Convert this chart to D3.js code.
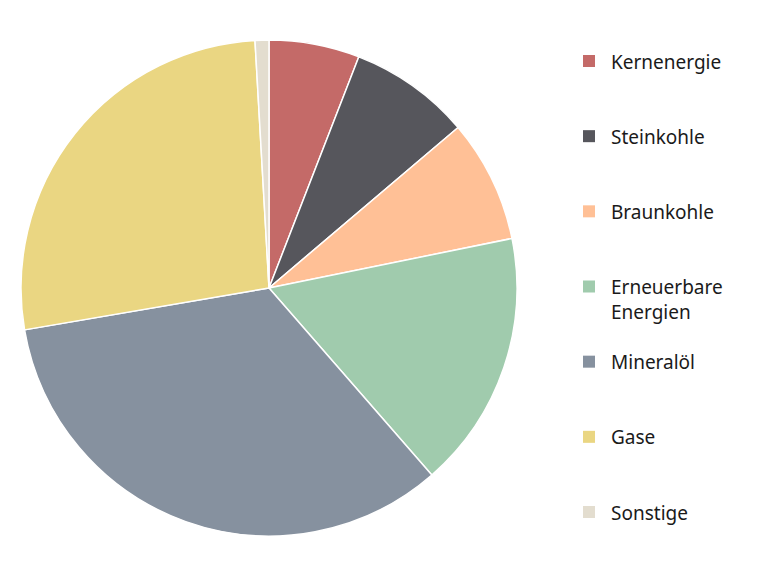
<!DOCTYPE html>
<html>
<head>
<meta charset="utf-8">
<script src="https://cdn.jsdelivr.net/npm/d3@7"></script>
<style>
  body { margin: 0; background: #fff; }
  text { font-family: "Noto Sans", sans-serif; }
</style>
</head>
<body>
<div id="chart"></div>
<script>
// Anteile am Primärenergieverbrauch (%), aus dem Bild geschätzt
const categories = ['Kernenergie', 'Steinkohle', 'Braunkohle', 'Erneuerbare Energien', 'Mineralöl', 'Gase', 'Sonstige'];
const values = [5.9, 7.9, 8.0, 16.8, 33.7, 26.8, 0.9];
const colors = ['#c46a68', '#56565c', '#ffc096', '#a0cbad', '#86919f', '#ead682', '#e3ddcf'];

const width = 768;
const height = 576;
const radius = 248;
const cx = 269, cy = 288;

const svg = d3
    .select('#chart')
    .append('svg')
    .attr('width', width)
    .attr('height', height);

const data = categories.map((c, i) => ({ name: c, value: values[i] }));
const color = d3.scaleOrdinal().domain(categories).range(colors);

const pie = d3.pie().value((d) => d.value).sort(null);
const arc = d3.arc().innerRadius(0).outerRadius(radius);

svg.append('g')
    .attr('transform', `translate(${cx}, ${cy})`)
    .selectAll('path')
    .data(pie(data))
    .enter()
    .append('path')
    .attr('d', arc)
    .attr('fill', (d) => color(d.data.name))
    .attr('stroke', '#fff')
    .attr('stroke-width', 1.5)
    .attr('stroke-linejoin', 'round');

// Legende
const legendY = d3.scalePoint().domain(categories).range([61, 512]);
const legend = svg.append('g')
    .selectAll('g')
    .data(categories)
    .enter()
    .append('g')
    .attr('transform', (d) => `translate(583, ${legendY(d)})`);

legend.append('rect')
    .attr('x', 0)
    .attr('y', -6)
    .attr('width', 12)
    .attr('height', 12)
    .attr('fill', (d) => color(d));

legend.append('text')
    .attr('x', 28)
    .attr('y', 1)
    .attr('font-size', 19)
    .attr('fill', '#1a1a1a')
    .selectAll('tspan')
    .data((d) => (d === 'Erneuerbare Energien' ? ['Erneuerbare', 'Energien'] : [d]))
    .enter()
    .append('tspan')
    .attr('x', 28)
    .attr('dy', (d, i) => (i === 0 ? '0.35em' : 25))
    .text((d) => d);
</script>
</body>
</html>
